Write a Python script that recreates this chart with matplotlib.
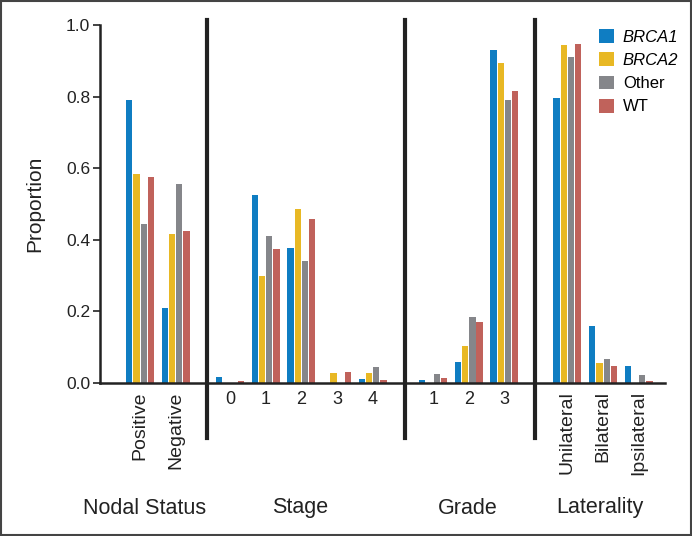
import matplotlib.pyplot as plt
import numpy as np

plt.rcParams["font.family"] = ["Liberation Sans", "DejaVu Sans"]

# categories per section
nodal_labels = ["Positive", "Negative"]
stage_labels = ["0", "1", "2", "3", "4"]
grade_labels = ["1", "2", "3"]
lat_labels = ["Unilateral", "Bilateral", "Ipsilateral"]

section_names = ["Nodal Status", "Stage", "Grade", "Laterality"]
series_names = ["BRCA1", "BRCA2", "Other", "WT"]

# proportions, one list per series, in the order nodal + stage + grade + laterality
brca1 = [0.79, 0.21, 0.018, 0.525, 0.378, 0.0, 0.010, 0.008, 0.060, 0.930, 0.795, 0.158, 0.047]
brca2 = [0.585, 0.415, 0.0, 0.298, 0.487, 0.028, 0.028, 0.0, 0.102, 0.895, 0.945, 0.057, 0.0]
other = [0.445, 0.555, 0.0, 0.410, 0.342, 0.0, 0.045, 0.025, 0.185, 0.790, 0.910, 0.067, 0.022]
wt = [0.575, 0.425, 0.005, 0.375, 0.457, 0.030, 0.008, 0.015, 0.170, 0.815, 0.948, 0.047, 0.005]

colors = ["#0f7dc2", "#e8b824", "#85868a", "#c0625b"]

# layout: where each section starts along the x axis (1 unit = one category slot)
section_starts = [0.03, 2.53, 8.17, 11.9]
dividers = [1.9, 7.4, 11.0]
section_lists = [nodal_labels, stage_labels, grade_labels, lat_labels]

positions = []
tick_labels = []
for start, labels in zip(section_starts, section_lists):
    for k, lab in enumerate(labels):
        positions.append(start + k * 0.99)
        tick_labels.append(lab)
positions = np.array(positions)

fig = plt.figure(figsize=(6.92, 5.36), dpi=100)
ax = fig.add_axes([100 / 692, 1 - 383 / 536, 565 / 692, 358 / 536])

bar_w = 0.175
step = 0.2
all_series = [brca1, brca2, other, wt]
for i, (vals, col, name) in enumerate(zip(all_series, colors, series_names)):
    ax.bar(positions + (i - 1.5) * step, vals, width=bar_w, color=col, label=name, linewidth=0)

ax.set_xlim(-1.083, 14.61)
ax.set_ylim(0, 1.0)
ax.set_yticks([0.0, 0.2, 0.4, 0.6, 0.8, 1.0])
ax.set_yticklabels(["0.0", "0.2", "0.4", "0.6", "0.8", "1.0"], fontsize=12.5, color="#222222")
ax.tick_params(axis="y", length=5, width=1.2, color="#222222", pad=2)

ax.set_xticks(positions)
ax.set_xticklabels(tick_labels, fontsize=13, color="#222222")
ax.tick_params(axis="x", length=0, pad=6)
for lab in ax.get_xticklabels():
    if lab.get_text() in nodal_labels + lat_labels:
        lab.set_rotation(90)
        lab.set_va("top")
        lab.set_fontsize(14)

ax.spines["top"].set_visible(False)
ax.spines["right"].set_visible(False)
ax.spines["left"].set_linewidth(1.8)
ax.spines["bottom"].set_linewidth(1.8)
ax.spines["left"].set_color("#222222")
ax.spines["bottom"].set_color("#222222")

for d in dividers:
    ax.plot([d, d], [-0.154, 1.015], color="#222222", linewidth=3, clip_on=False)

ax.set_ylabel("Proportion", fontsize=15, color="#222222", labelpad=16)

# section titles below the axis
section_centers = [145, 300, 468, 600]
for name, cx in zip(section_names, section_centers):
    fig.text(cx / 692, 1 - 508 / 536, name, ha="center", va="center", fontsize=15.5,
             color="#222222")

leg = ax.legend(loc="upper right", bbox_to_anchor=(1.05, 1.03), frameon=False, fontsize=12,
                handlelength=0.9, handleheight=0.9, handletextpad=0.5, labelspacing=0.45)
for t in leg.get_texts():
    if t.get_text().startswith("BRCA"):
        t.set_style("italic")

# frame around whole figure
fig.patches.append(plt.Rectangle((0.002, 0.002), 0.996, 0.996, transform=fig.transFigure,
                                 fill=False, edgecolor="#444444", linewidth=1.5))

fig.savefig("out.png", dpi=100)
